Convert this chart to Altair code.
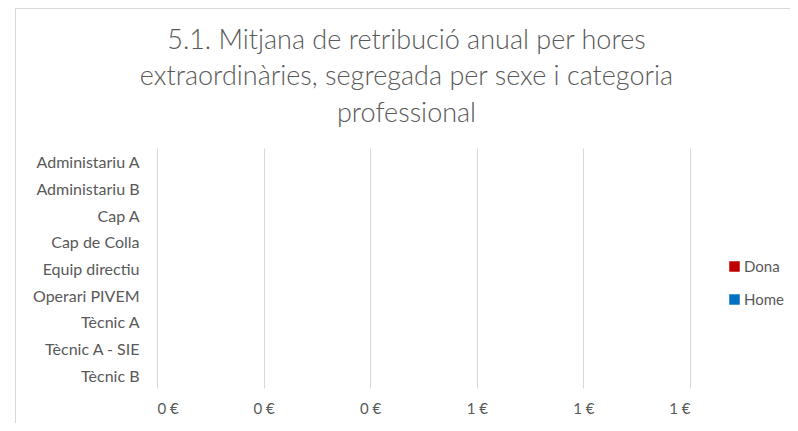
import altair as alt
import pandas as pd

categories = ["Administariu A", "Administariu B", "Cap A", "Cap de Colla", "Equip directiu",
              "Operari PIVEM", "Tècnic A", "Tècnic A - SIE", "Tècnic B"]
dona = [0, 0, 0, 0, 0, 0, 0, 0, 0]
home = [0, 0, 0, 0, 0, 0, 0, 0, 0]
series = ["Dona", "Home"]
colors = ["#C00000", "#0070C0"]
x_ticks = [0, 0.2, 0.4, 0.6, 0.8, 1.0]
title_lines = ["5.1. Mitjana de retribució anual per hores",
               "extraordinàries, segregada per sexe i categoria",
               "professional"]

rows = []
for c, d, h in zip(categories, dona, home):
    rows.append({"cat": c, "sexe": "Dona", "val": d})
    rows.append({"cat": c, "sexe": "Home", "val": h})
df = pd.DataFrame(rows)

FONT = "Lato"
GREY = "#595959"

bars = alt.Chart(df).mark_bar().encode(
    y=alt.Y("cat:N", sort=categories, title=None,
            scale=alt.Scale(paddingInner=0, paddingOuter=0),
            axis=alt.Axis(domain=False, ticks=False, labelPadding=18, labelFontSize=16,
                          labelColor=GREY, labelFont=FONT, labelOffset=2)),
    yOffset=alt.YOffset("sexe:N", sort=series, scale=alt.Scale(paddingOuter=0.5)),
    x=alt.X("val:Q", title=None,
            scale=alt.Scale(domain=[0, 1], nice=False),
            axis=alt.Axis(values=x_ticks, domain=False, ticks=False, grid=True,
                          gridColor="#d9d9d9", gridWidth=1,
                          labelExpr="format(datum.value, '.0f') + ' €'",
                          labelFontSize=15, labelColor=GREY, labelFont=FONT,
                          labelPadding=13)),
    color=alt.Color("sexe:N", sort=series,
                    scale=alt.Scale(domain=series, range=colors),
                    legend=alt.Legend(title=None, orient="none", legendX=570, legendY=111,
                                      symbolType="square", symbolSize=110, symbolStrokeWidth=0,
                                      rowPadding=17, labelFontSize=15, labelColor=GREY,
                                      labelFont=FONT, labelOffset=2)),
)

border_left = alt.Chart(df).mark_rule(color="#d9d9d9", strokeWidth=1).encode(
    x=alt.value(-141.5), y=alt.value(-140), y2=alt.value(290))
border_top = alt.Chart(df).mark_rule(color="#d9d9d9", strokeWidth=1).encode(
    x=alt.value(-141.5), x2=alt.value(660), y=alt.value(-139.5))

chart = alt.layer(border_left, border_top, bars).properties(
    width=533, height=240,
    autosize=alt.AutoSizeParams(type="none"),
    padding={"left": 149, "top": 140, "right": 100, "bottom": 35},
    title=alt.TitleParams(text=title_lines, fontSize=27, color=GREY, font=FONT,
                          fontWeight=300, anchor="middle", dx=-17, offset=0, dy=120,
                          lineHeight=36.5),
).configure_view(stroke=None)

chart.save("out.html", embed_options={"renderer": "svg", "actions": False})
